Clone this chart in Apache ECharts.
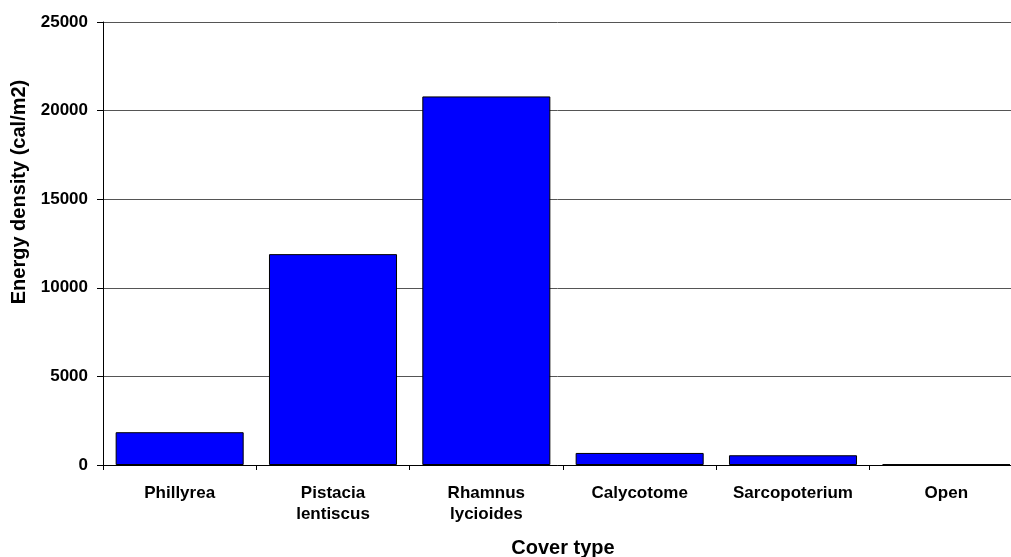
<!DOCTYPE html>
<html>
<head>
<meta charset="utf-8">
<script src="https://cdn.jsdelivr.net/npm/echarts@6/dist/echarts.min.js"></script>
<style>
html,body{margin:0;padding:0;background:#fff;}
#chart{width:1011px;height:557px;}
</style>
</head>
<body>
<div id="chart"></div>
<script>
const categories = ['Phillyrea', 'Pistacia\nlentiscus', 'Rhamnus\nlycioides', 'Calycotome', 'Sarcopoterium', 'Open'];
const energyDensity = [1850, 11900, 20800, 680, 550, 40];
const yTicks = { min: 0, max: 25000, interval: 5000 };
const xTitle = 'Cover type';
const yTitle = 'Energy density (cal/m2)';

const FONT = '"Liberation Sans", Arial, sans-serif';
const chart = echarts.init(document.getElementById('chart'), null, { renderer: 'canvas' });
chart.setOption({
  animation: false,
  backgroundColor: '#ffffff',
  grid: { left: 103, right: -12, top: 22, bottom: 92, containLabel: false, outerBoundsMode: 'none' },
  xAxis: {
    type: 'category',
    data: categories,
    name: xTitle,
    nameLocation: 'middle',
    nameGap: 73,
    nameTextStyle: { fontFamily: FONT, fontWeight: 'bold', fontSize: 20, color: '#000' },
    axisLine: { lineStyle: { color: '#000', width: 1 } },
    axisTick: { show: true, alignWithLabel: false, length: 5, lineStyle: { color: '#000' } },
    axisLabel: { fontFamily: FONT, fontWeight: 'bold', fontSize: 17, color: '#000', margin: 18, lineHeight: 21, interval: 0 }
  },
  yAxis: {
    type: 'value',
    min: yTicks.min,
    max: yTicks.max,
    interval: yTicks.interval,
    name: yTitle,
    nameLocation: 'middle',
    nameGap: 66,
    nameRotate: 90,
    nameTextStyle: { fontFamily: FONT, fontWeight: 'bold', fontSize: 20, color: '#000', padding: [0, 0, 0, 103] },
    axisLine: { show: true, lineStyle: { color: '#000', width: 1 } },
    axisTick: { show: true, length: 6, lineStyle: { color: '#000' } },
    axisLabel: { fontFamily: FONT, fontWeight: 'bold', fontSize: 17, color: '#000', margin: 15, formatter: v => String(v) },
    splitLine: { show: true, lineStyle: { color: '#555', width: 1 } }
  },
  series: [{
    type: 'bar',
    data: energyDensity,
    barCategoryGap: '16.5%',
    itemStyle: { color: '#0000ff', borderColor: '#000', borderWidth: 1 }
  }]
});
</script>
</body>
</html>
